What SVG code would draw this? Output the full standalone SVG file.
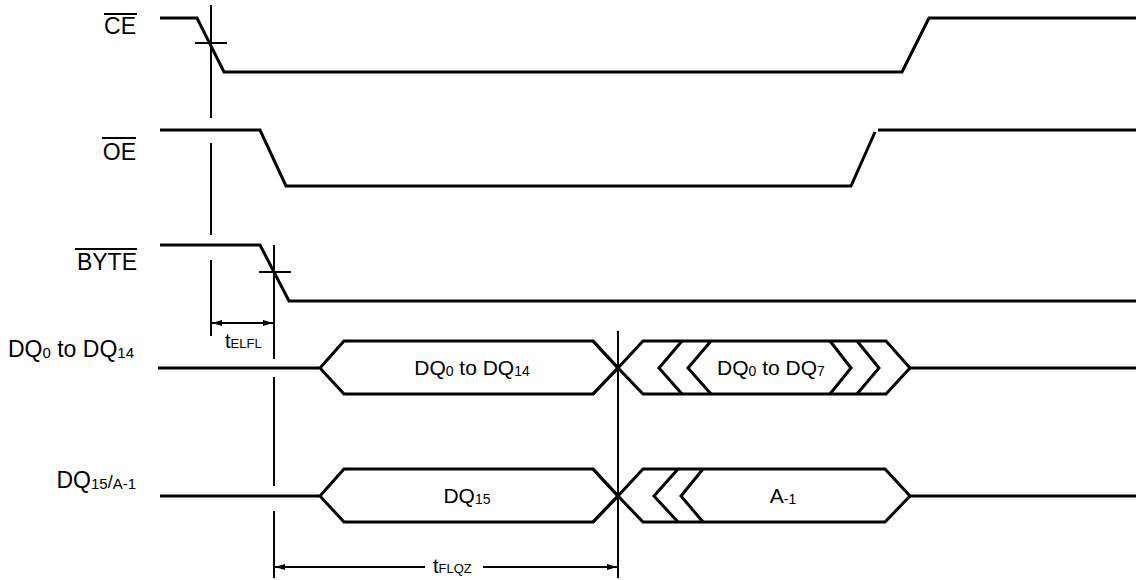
<svg xmlns="http://www.w3.org/2000/svg" width="1136" height="580" viewBox="0 0 1136 580">
<style>
.sig{fill:none;stroke:#000;stroke-width:3;stroke-linejoin:miter}
.ref{fill:none;stroke:#000;stroke-width:2}
.dim{fill:none;stroke:#000;stroke-width:1.8}
.lbl{font-family:"Liberation Sans",Arial,sans-serif;font-size:23px;fill:#000}
.bus{font-family:"Liberation Sans",Arial,sans-serif;font-size:21px;fill:#000}
.tl{font-family:"Liberation Sans",Arial,sans-serif;font-size:20px;fill:#000}
</style>
<defs>
<marker id="ah" viewBox="0 0 10 6" refX="10" refY="3" markerWidth="10" markerHeight="6" markerUnits="userSpaceOnUse" orient="auto-start-reverse">
<path d="M0,0 L10,3 L0,6 Z" fill="#000"/>
</marker>
</defs>
<rect width="1136" height="580" fill="#fff"/>

<g id="CE">
<text class="lbl" x="136" y="34" text-anchor="end">CE</text>
<line x1="104" y1="14" x2="137" y2="14" stroke="#000" stroke-width="2"/>
<polyline class="sig" points="160,18 197,18 224,72 902,72 929,18 1136,18"/>
</g>

<g id="OE">
<text class="lbl" x="136" y="160" text-anchor="end">OE</text>
<line x1="102" y1="138" x2="136" y2="138" stroke="#000" stroke-width="2"/>
<polyline class="sig" points="160,130 260,130 286,186 851,186 875,132"/>
<line class="sig" x1="878" y1="130" x2="1136" y2="130"/>
</g>

<g id="BYTE">
<text class="lbl" x="137" y="270" text-anchor="end">BYTE</text>
<line x1="75" y1="249" x2="137" y2="249" stroke="#000" stroke-width="2"/>
<polyline class="sig" points="160,245 260,245 289,301 1136,301"/>
</g>

<g id="DQ0_14">
<text class="lbl" x="8" y="357">DQ<tspan font-size="15" dy="1">0</tspan><tspan dy="-1"> to DQ</tspan><tspan font-size="15" dy="1">14</tspan></text>
<polyline class="sig" points="158,368 320,368 344,341 593,341 618,368 593,394 344,394 320,368"/>
<polyline class="sig" points="593,341 618,368 643,341 886,341 910,368 886,394 643,394 618,368 593,394"/>
<polyline class="sig" points="682,341 659,368 682,394"/>
<polyline class="sig" points="711,341 688,368 711,394"/>
<polyline class="sig" points="830,341 851,368 830,394"/>
<polyline class="sig" points="857,341 879,368 857,394"/>
<line class="sig" x1="910" y1="368" x2="1136" y2="368"/>
<text class="bus" x="472" y="375" text-anchor="middle">DQ<tspan font-size="14" dy="1">0</tspan><tspan dy="-1"> to DQ</tspan><tspan font-size="14" dy="1">14</tspan></text>
<text class="bus" x="771" y="375" text-anchor="middle">DQ<tspan font-size="14" dy="1">0</tspan><tspan dy="-1"> to DQ</tspan><tspan font-size="14" dy="1">7</tspan></text>
</g>

<g id="DQ15_A-1">
<text class="lbl" x="136" y="488" text-anchor="end">DQ<tspan font-size="15" dy="1">15</tspan><tspan font-size="18" dy="-1">/</tspan><tspan font-size="15" dy="1">A-1</tspan></text>
<polyline class="sig" points="160,496 320,496 344,469 593,469 618,496 593,522 344,522 320,496"/>
<polyline class="sig" points="593,469 618,496 643,469 885,469 910,496 885,522 643,522 618,496 593,522"/>
<polyline class="sig" points="678,469 654,496 678,522"/>
<polyline class="sig" points="703,469 681,496 703,522"/>
<line class="sig" x1="910" y1="496" x2="1136" y2="496"/>
<text class="bus" x="467" y="503" text-anchor="middle">DQ<tspan font-size="14" dy="1">15</tspan></text>
<text class="bus" x="783" y="503" text-anchor="middle">A<tspan font-size="14" dy="1">-1</tspan></text>
</g>

<g id="connectors">
<!-- reference line at CE falling edge -->
<line class="ref" x1="211" y1="5" x2="211" y2="118"/>
<line class="ref" x1="211" y1="143" x2="211" y2="235"/>
<line class="ref" x1="211" y1="260" x2="211" y2="336"/>
<line class="ref" x1="195" y1="43" x2="227" y2="43"/>
<!-- reference line at BYTE falling edge -->
<line class="ref" x1="274" y1="245" x2="274" y2="359"/>
<line class="ref" x1="274" y1="377" x2="274" y2="486"/>
<line class="ref" x1="274" y1="511" x2="274" y2="578"/>
<line class="ref" x1="259" y1="272" x2="291" y2="272"/>
<!-- bus transition reference -->
<line class="ref" x1="618" y1="331" x2="618" y2="578"/>
<!-- tELFL -->
<line class="dim" x1="212" y1="323" x2="273" y2="323" marker-start="url(#ah)" marker-end="url(#ah)"/>
<text class="tl" x="225" y="348">t<tspan font-size="13">ELFL</tspan></text>
<!-- tFLQZ -->
<line class="dim" x1="425" y1="567" x2="275" y2="567" marker-end="url(#ah)"/>
<line class="dim" x1="483" y1="567" x2="617" y2="567" marker-end="url(#ah)"/>
<text class="tl" x="433" y="573">t<tspan font-size="13">FLQZ</tspan></text>
</g>
</svg>
